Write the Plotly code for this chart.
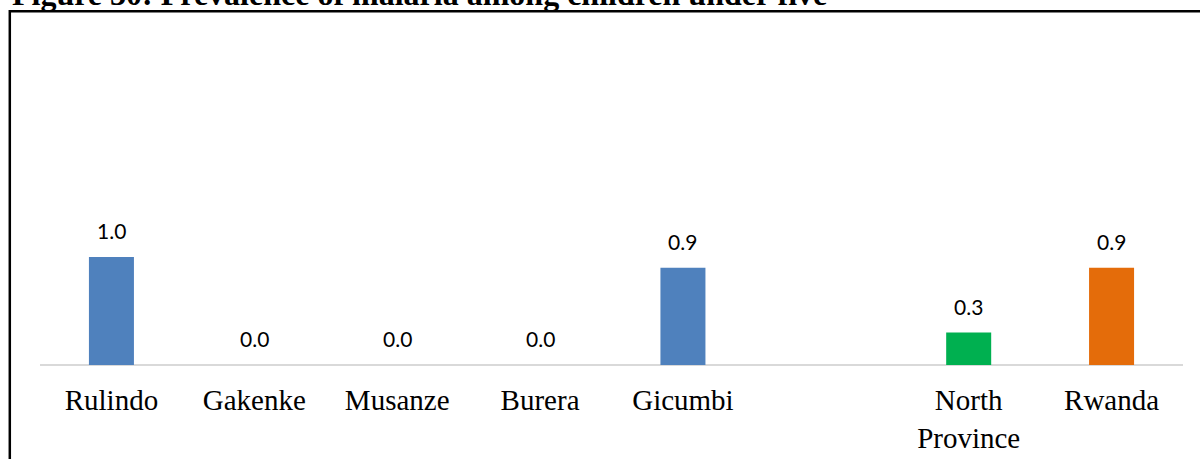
import plotly.graph_objects as go

# Malaria prevalence (%) among children under five, by district
categories = ["Rulindo", "Gakenke", "Musanze", "Burera", "Gicumbi", " ",
              "North<br>Province", "Rwanda"]
prevalence = [1.0, 0.0, 0.0, 0.0, 0.9, None, 0.3, 0.9]
bar_colors = ["#4F81BD", "#4F81BD", "#4F81BD", "#4F81BD", "#4F81BD",
              "#4F81BD", "#00B050", "#E46C0A"]
title_text = "Figure 30: Prevalence of malaria among children under five"

W, H = 1200, 459
ML, MR, MT, MB = 40, 17, 11, 94
plot_w = W - ML - MR
plot_h = H - MT - MB
px_per_unit = 108.0
y_max = plot_h / px_per_unit

fig = go.Figure(
    go.Bar(
        x=categories,
        y=prevalence,
        marker=dict(color=bar_colors, line=dict(width=0)),
        hoverinfo="skip",
    )
)

# value labels above each bar
for cat, val in zip(categories, prevalence):
    if val is None:
        continue
    fig.add_annotation(
        x=cat, y=val, xref="x", yref="y",
        text=f"{val:.1f}", showarrow=False,
        yanchor="bottom", xanchor="center", yshift=12,
        font=dict(family="Lato", size=21, color="#000000"),
    )

# figure caption (partially above the page edge)
fig.add_annotation(
    x=(10 - ML) / plot_w, y=(H - MB - 14) / plot_h,
    xref="paper", yref="paper",
    text=f"<b>{title_text}</b>", showarrow=False,
    xanchor="left", yanchor="bottom",
    font=dict(family="Liberation Serif", size=32, color="#000000"),
)

# baseline of the category axis
fig.add_shape(
    type="line", xref="paper", yref="paper",
    x0=0, x1=1, y0=0, y1=0,
    line=dict(color="#D9D9D9", width=2),
    layer="below",
)

# frame around the chart (left and top edges)
left_x = (9.8 - ML) / plot_w
top_y = (H - MB - 11.2) / plot_h
fig.add_shape(
    type="path",
    path=f"M {left_x} -0.5 L {left_x} {top_y} L 1.2 {top_y}",
    xref="paper", yref="paper",
    line=dict(color="#000000", width=2.5),
)

fig.update_layout(
    width=W, height=H,
    margin=dict(l=ML, r=MR, t=MT, b=MB, autoexpand=False),
    paper_bgcolor="#FFFFFF",
    plot_bgcolor="#FFFFFF",
    bargap=0.685,
    showlegend=False,
    xaxis=dict(
        type="category", automargin=False,
        showline=False, showgrid=False, zeroline=False, ticks="",
        ticklabelstandoff=15,
        tickfont=dict(family="Liberation Serif", size=29, color="#000000"),
    ),
    yaxis=dict(
        range=[0, y_max], visible=False, showgrid=False, zeroline=False,
        automargin=False,
    ),
)

fig.write_html("out.html")
